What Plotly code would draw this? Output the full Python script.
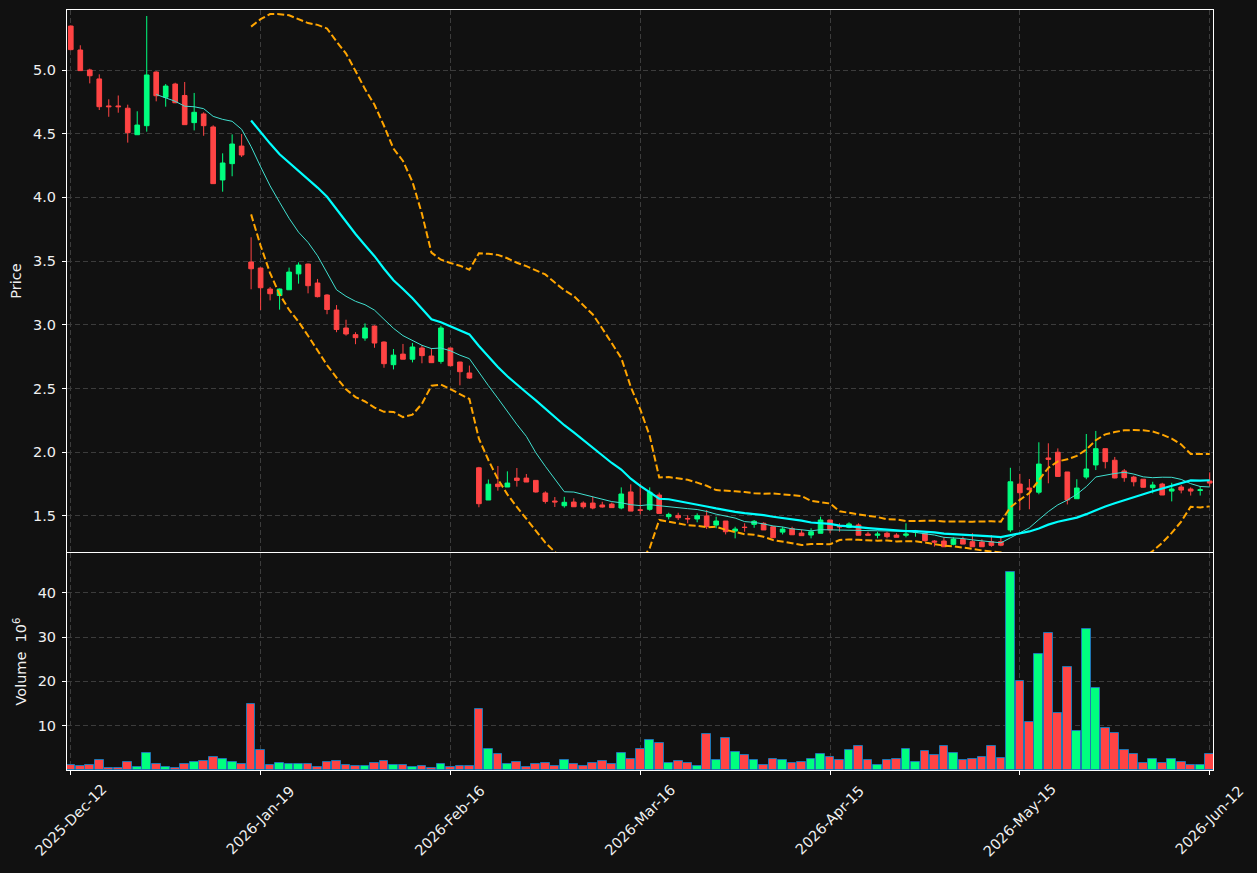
import numpy as np
import plotly.graph_objects as go

# ---------------- data ----------------
opens = [5.345, 5.157, 5.0, 4.93, 4.718, 4.718, 4.70, 4.492, 4.563, 4.984,
         4.786, 4.89, 4.80, 4.587, 4.655, 4.553, 4.137, 4.265, 4.403, 3.493,
         3.446, 3.281, 3.23, 3.275, 3.40, 3.477, 3.328, 3.234, 3.116, 2.975,
         2.923, 2.896, 2.99, 2.865, 2.687, 2.77, 2.73, 2.818, 2.755, 2.713,
         2.818, 2.708, 2.622, 1.878, 1.625, 1.75, 1.727, 1.797, 1.797, 1.779,
         1.68, 1.617, 1.58, 1.609, 1.601, 1.601, 1.586, 1.593, 1.562, 1.688,
         1.548, 1.552, 1.664, 1.494, 1.504, 1.48, 1.476, 1.50, 1.428, 1.46,
         1.381, 1.412, 1.434, 1.442, 1.415, 1.373, 1.40, 1.366, 1.35, 1.364,
         1.468, 1.417, 1.41, 1.429, 1.358, 1.348, 1.364, 1.35, 1.348, 1.37,
         1.364, 1.303, 1.303, 1.277, 1.316, 1.298, 1.295, 1.298, 1.298, 1.39,
         1.75, 1.719, 1.686, 1.955, 2.0, 1.845, 1.635, 1.805, 1.9, 2.028,
         1.937, 1.853, 1.805, 1.788, 1.722, 1.75, 1.695, 1.727, 1.711, 1.70,
         1.774]
highs = [5.35, 5.194, 5.01, 4.966, 4.77, 4.80, 4.728, 4.676, 5.424, 4.99,
         4.89, 4.90, 4.906, 4.82, 4.668, 4.566, 4.346, 4.495, 4.498, 3.687,
         3.45, 3.297, 3.285, 3.449, 3.49, 3.48, 3.36, 3.24, 3.155, 3.04,
         2.942, 3.011, 2.995, 2.87, 2.81, 2.85, 2.858, 2.84, 2.816, 2.993,
         2.82, 2.71, 2.68, 1.885, 1.786, 1.892, 1.85, 1.876, 1.829, 1.78,
         1.693, 1.648, 1.65, 1.638, 1.614, 1.65, 1.611, 1.605, 1.724, 1.748,
         1.75, 1.724, 1.683, 1.525, 1.525, 1.505, 1.52, 1.546, 1.494, 1.46,
         1.415, 1.442, 1.468, 1.45, 1.42, 1.415, 1.415, 1.394, 1.403, 1.494,
         1.47, 1.442, 1.45, 1.442, 1.376, 1.376, 1.376, 1.364, 1.442, 1.39,
         1.364, 1.31, 1.332, 1.332, 1.337, 1.364, 1.316, 1.35, 1.337, 1.878,
         1.83, 1.79, 2.078, 2.07, 2.03, 1.845, 1.788, 2.143, 2.167, 2.03,
         1.963, 1.868, 1.815, 1.79, 1.768, 1.76, 1.76, 1.743, 1.724, 1.735,
         1.842]
lows = [5.155, 4.995, 4.895, 4.686, 4.633, 4.665, 4.43, 4.49, 4.516, 4.754,
        4.712, 4.74, 4.571, 4.526, 4.484, 4.108, 4.045, 4.166, 4.317, 3.279,
        3.116, 3.192, 3.119, 3.275, 3.323, 3.247, 3.215, 3.083, 2.942, 2.915,
        2.848, 2.875, 2.82, 2.663, 2.65, 2.73, 2.705, 2.698, 2.70, 2.695,
        2.675, 2.525, 2.577, 1.568, 1.625, 1.698, 1.727, 1.73, 1.766, 1.683,
        1.597, 1.57, 1.565, 1.572, 1.557, 1.552, 1.565, 1.565, 1.552, 1.538,
        1.512, 1.541, 1.52, 1.473, 1.468, 1.442, 1.45, 1.397, 1.403, 1.355,
        1.324, 1.376, 1.407, 1.39, 1.329, 1.355, 1.352, 1.345, 1.324, 1.364,
        1.364, 1.376, 1.403, 1.348, 1.348, 1.324, 1.324, 1.332, 1.332, 1.337,
        1.298, 1.26, 1.258, 1.27, 1.279, 1.258, 1.258, 1.258, 1.262, 1.372,
        1.546, 1.552, 1.67, 1.756, 1.81, 1.59, 1.635, 1.788, 1.86, 1.873,
        1.795, 1.768, 1.732, 1.722, 1.677, 1.664, 1.614, 1.677, 1.66, 1.66,
        1.73]
closes = [5.16, 4.995, 4.955, 4.712, 4.712, 4.712, 4.508, 4.568, 4.961, 4.798,
          4.874, 4.743, 4.571, 4.668, 4.563, 4.108, 4.27, 4.419, 4.333, 3.44,
          3.291, 3.244, 3.281, 3.414, 3.469, 3.307, 3.221, 3.12, 2.963, 2.928,
          2.899, 2.975, 2.857, 2.695, 2.762, 2.73, 2.826, 2.758, 2.703, 2.975,
          2.679, 2.632, 2.582, 1.596, 1.749, 1.73, 1.758, 1.779, 1.766, 1.688,
          1.614, 1.61, 1.607, 1.572, 1.572, 1.562, 1.57, 1.565, 1.672, 1.538,
          1.544, 1.686, 1.52, 1.512, 1.486, 1.477, 1.502, 1.416, 1.46, 1.376,
          1.397, 1.409, 1.458, 1.39, 1.329, 1.397, 1.352, 1.345, 1.376, 1.468,
          1.39, 1.414, 1.437, 1.348, 1.348, 1.358, 1.337, 1.332, 1.358, 1.38,
          1.306, 1.295, 1.258, 1.318, 1.279, 1.258, 1.258, 1.269, 1.27, 1.768,
          1.682, 1.706, 1.907, 1.944, 1.81, 1.625, 1.719, 1.868, 2.028, 1.926,
          1.798, 1.80, 1.768, 1.725, 1.743, 1.664, 1.711, 1.703, 1.695, 1.705,
          1.758]
volumes = [1.06, 0.83, 1.06, 2.2, 0.38, 0.38, 1.74, 0.6, 3.79, 1.29,
           0.6, 0.38, 1.29, 1.74, 1.97, 2.88, 2.42, 1.74, 1.29, 14.9,
           4.47, 1.06, 1.52, 1.29, 1.29, 1.29, 0.6, 1.74, 1.97, 1.06,
           0.83, 0.83, 1.52, 1.97, 1.06, 1.06, 0.6, 0.83, 0.38, 1.29,
           0.6, 0.83, 0.83, 13.8, 4.7, 3.56, 1.29, 1.74, 0.6, 1.29,
           1.52, 0.83, 2.2, 1.29, 0.83, 1.52, 1.97, 1.29, 3.79, 2.42,
           4.7, 6.74, 6.06, 1.52, 1.97, 1.52, 0.83, 8.1, 2.2, 7.2,
           4.0, 3.33, 2.2, 1.06, 2.42, 2.2, 1.52, 1.74, 2.42, 3.56,
           2.88, 2.2, 4.47, 5.38, 2.2, 1.06, 2.2, 2.42, 4.7, 1.74,
           4.24, 3.33, 5.38, 3.79, 2.2, 2.42, 2.88, 5.38, 2.65, 44.7,
           20.15, 10.83, 26.06, 30.8, 12.9, 23.3, 8.8, 31.7, 18.56, 9.47,
           8.33, 4.47, 3.56, 1.52, 2.42, 1.52, 2.42, 1.74, 1.06, 1.06,
           3.56]
tick_positions = [0, 20, 40, 60, 80, 100, 120]
tick_labels = ["2025-Dec-12", "2026-Jan-19", "2026-Feb-16", "2026-Mar-16",
               "2026-Apr-15", "2026-May-15", "2026-Jun-12"]
price_ticks = [1.5, 2.0, 2.5, 3.0, 3.5, 4.0, 4.5, 5.0]
volume_ticks = [10, 20, 30, 40]

# ---------------- derived indicators ----------------
idx = np.arange(len(closes))
c = np.array(closes)


def sma(arr, n):
    out = np.full(len(arr), np.nan)
    for i in range(n - 1, len(arr)):
        out[i] = arr[i - n + 1:i + 1].mean()
    return out


def rstd(arr, n):
    out = np.full(len(arr), np.nan)
    for i in range(n - 1, len(arr)):
        out[i] = arr[i - n + 1:i + 1].std()
    return out


ma10 = sma(c, 10)
ma20 = sma(c, 20)
sd20 = rstd(c, 20)
upper = ma20 + 2 * sd20
lower = ma20 - 2 * sd20

UP = "#00ff7f"
DOWN = "#ff4444"
BG = "#111111"
GRID = "#3c3c3c"
TXT = "#f0f0f0"
FONT = "DejaVu Sans"
FS = 14.5

vol_colors = [UP if cl >= op else DOWN for op, cl in zip(opens, closes)]

fig = go.Figure()

fig.add_trace(go.Candlestick(
    x=idx, open=opens, high=highs, low=lows, close=closes,
    increasing=dict(line=dict(color=UP, width=1), fillcolor=UP),
    decreasing=dict(line=dict(color=DOWN, width=1), fillcolor=DOWN),
    whiskerwidth=0, showlegend=False, xaxis="x", yaxis="y"))

fig.add_trace(go.Scatter(x=idx, y=ma10, mode="lines",
                         line=dict(color="#40e0d0", width=1),
                         showlegend=False, xaxis="x", yaxis="y"))
fig.add_trace(go.Scatter(x=idx, y=ma20, mode="lines",
                         line=dict(color="#00ffff", width=2.2),
                         showlegend=False, xaxis="x", yaxis="y"))
for band in (upper, lower):
    fig.add_trace(go.Scatter(x=idx, y=band, mode="lines",
                             line=dict(color="#ffa500", width=2, dash="7px,3px"),
                             showlegend=False, xaxis="x", yaxis="y"))

fig.add_trace(go.Bar(x=idx, y=volumes, width=0.92,
                     marker=dict(color=vol_colors, line=dict(color="#1f77b4", width=1)),
                     showlegend=False, xaxis="x2", yaxis="y2"))

axis_common = dict(showline=True, linecolor="white", linewidth=1, mirror=True,
                   showgrid=True, gridcolor=GRID, griddash="5px,3px", gridwidth=1,
                   zeroline=False, tickcolor="white", ticklen=4, tickwidth=1)
ytick_font = dict(family=FONT, size=FS, color=TXT)

fig.update_layout(
    width=1257, height=873,
    margin=dict(l=67, r=44, t=10, b=103),
    paper_bgcolor=BG, plot_bgcolor=BG,
    font=dict(family=FONT, size=FS, color=TXT),
    bargap=0,
    xaxis=dict(domain=[0, 1], range=[-0.4, 120.35], anchor="y",
               tickvals=tick_positions, showticklabels=False, ticks="",
               rangeslider=dict(visible=False), **axis_common),
    yaxis=dict(domain=[0.2868, 1], range=[1.2166, 5.471], anchor="x",
               tickvals=price_ticks, tickformat=".1f", ticks="outside",
               tickfont=ytick_font, ticklabelstandoff=3,
               title=dict(text="Price", font=dict(family=FONT, size=FS, color=TXT), standoff=7),
               **axis_common),
    xaxis2=dict(domain=[0, 1], range=[-0.4, 120.35], anchor="y2",
                tickvals=tick_positions, showticklabels=False, ticks="outside",
                **axis_common),
    yaxis2=dict(domain=[0, 0.2855], range=[0, 48.95], anchor="x2",
                tickvals=volume_ticks, ticks="outside",
                tickfont=ytick_font, ticklabelstandoff=3,
                title=dict(text="Volume\u00a0\u00a010<sup>6</sup>",
                           font=dict(family=FONT, size=FS, color=TXT), standoff=7),
                **axis_common),
)

for pos, lab in zip(tick_positions, tick_labels):
    fig.add_annotation(x=pos, xref="x2", y=-0.066, yref="paper", text=lab,
                       textangle=-45, showarrow=False, xanchor="center", yanchor="middle",
                       font=dict(family=FONT, size=FS, color=TXT))

fig.write_html("out.html")
